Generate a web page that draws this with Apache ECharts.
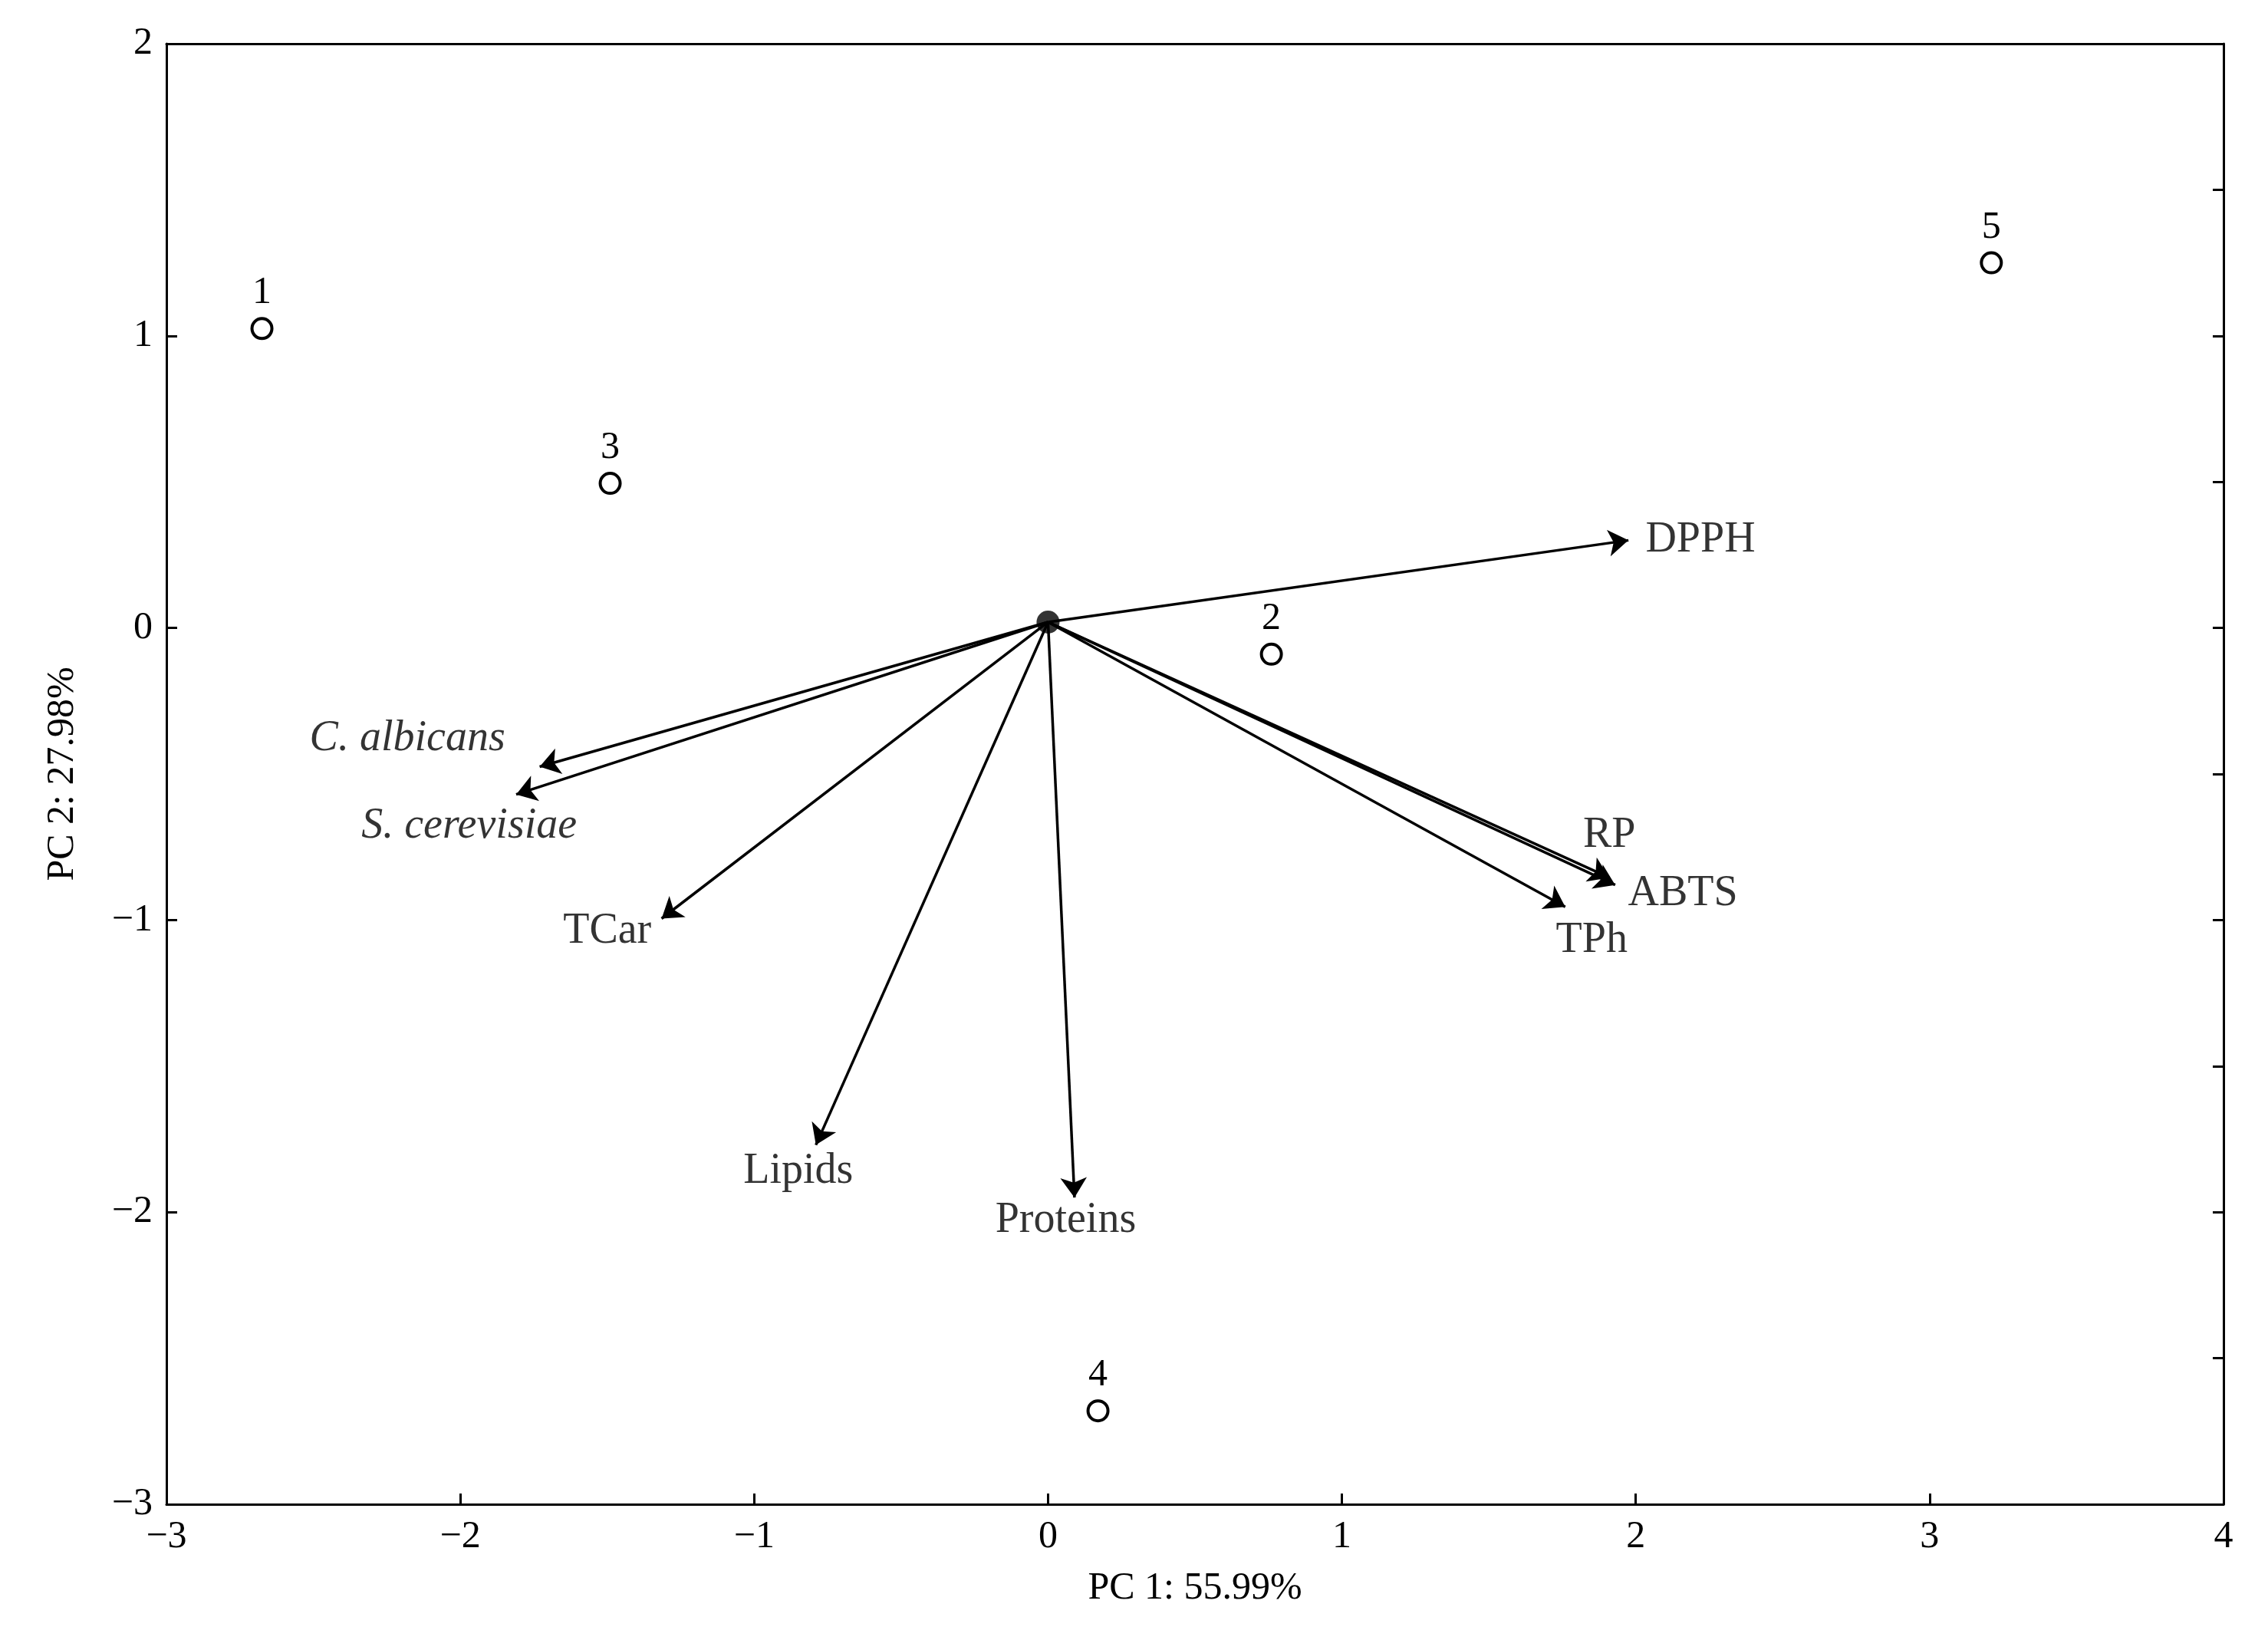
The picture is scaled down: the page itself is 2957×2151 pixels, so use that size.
<!DOCTYPE html>
<html><head><meta charset="utf-8">
<script src="https://cdn.jsdelivr.net/npm/echarts@6/dist/echarts.min.js"></script>
<style>html,body{margin:0;background:#fff}#c{width:2957px;height:2151px}</style></head>
<body><div id="c"></div>
<script>
const sampleNames = ['1','2','3','4','5'];
const sampleX = [-2.675, 0.76, -1.49, 0.17, 3.21];
const sampleY = [1.025, -0.09, 0.495, -2.68, 1.25];
const varNames = ['DPPH','C. albicans','S. cerevisiae','TCar','Lipids','Proteins','RP','ABTS','TPh'];
const varX = [1.975, -1.73, -1.81, -1.315, -0.79, 0.09, 1.91, 1.93, 1.76];
const varY = [0.30, -0.475, -0.57, -0.995, -1.77, -1.95, -0.855, -0.88, -0.955];
const labelX = [2.22, -2.18, -1.97, -1.50, -0.85, 0.06, 1.91, 2.16, 1.85];
const labelY = [0.30, -0.38, -0.68, -1.04, -1.86, -2.03, -0.71, -0.91, -1.07];
const italic = [false,true,true,false,false,false,false,false,false];
const origin = [0.0, 0.02];
const F = 'Liberation Serif';
const fmt = v => (v<0?'\u2212'+(-v):''+v);
function ax(o){
  return Object.assign({type:'value',axisLine:{onZero:false,lineStyle:{color:'#000',width:3}},
    axisTick:{inside:true,length:14,lineStyle:{color:'#000',width:3}},splitLine:{show:false},
    axisLabel:{color:'#000',fontFamily:F,fontSize:50,formatter:fmt,margin:18},
    nameTextStyle:{color:'#000',fontFamily:F,fontSize:50}},o);
}
const chart = echarts.init(document.getElementById('c'));
chart.setOption({
  animation:false,
  grid:{left:217,right:58,top:57,bottom:190},
  xAxis:[ax({min:-3,max:4,interval:1,name:'PC 1: 55.99%',nameLocation:'middle',nameGap:85}),
         ax({min:-3,max:4,interval:1,position:'top',axisTick:{show:false},axisLabel:{show:false}})],
  yAxis:[ax({min:-3,max:2,interval:1,name:'PC 2: 27.98%',nameLocation:'middle',nameGap:110}),
         ax({min:-3,max:2,interval:0.5,position:'right',axisLabel:{show:false}})],
  series:[
    {type:'lines',coordinateSystem:'cartesian2d',symbol:['none','arrow'],symbolSize:[0,26],
     lineStyle:{color:'#000',width:3.5,opacity:1},
     data:varX.map((x,i)=>({coords:[origin,[x,varY[i]]]}))},
    {type:'scatter',symbol:'circle',symbolSize:30,itemStyle:{color:'#000'},data:[origin],z:5},
    {type:'scatter',symbol:'circle',symbolSize:26,itemStyle:{color:'#fff',borderColor:'#000',borderWidth:4,opacity:1},
     label:{show:true,position:'top',distance:6,color:'#000',fontFamily:F,fontSize:50,formatter:p=>sampleNames[p.dataIndex]},
     data:sampleX.map((x,i)=>[x,sampleY[i]])},
    {type:'scatter',symbolSize:0,silent:true,
     label:{show:true,position:'inside',color:'#000',fontFamily:F,fontSize:56,formatter:p=>varNames[p.dataIndex]},
     data:labelX.map((x,i)=>({value:[x,labelY[i]],label:{fontStyle:italic[i]?'italic':'normal'}}))}
  ]
});
</script></body></html>
